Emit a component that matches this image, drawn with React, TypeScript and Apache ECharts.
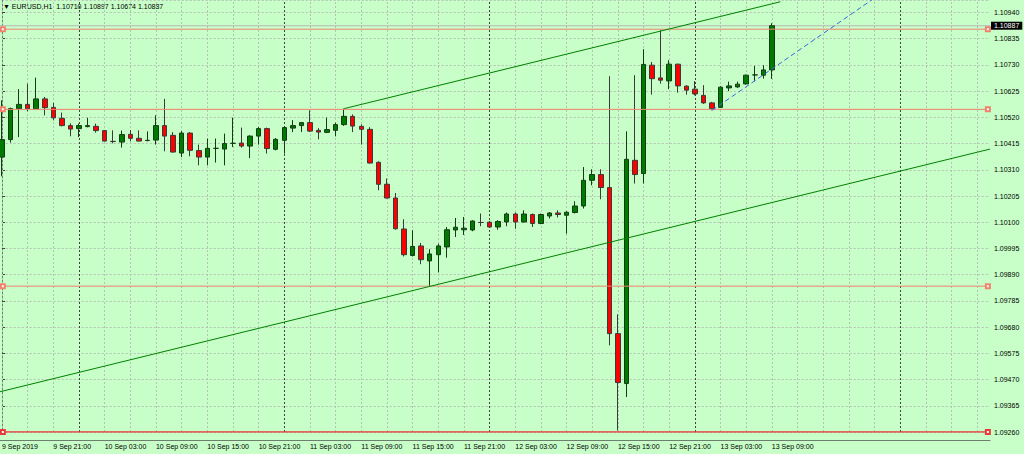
import React, { useEffect, useRef } from "react";
import * as echarts from "echarts";

const FONT = "'Liberation Sans', Arial, sans-serif";
const TITLE = "▼ EURUSD,H1  1.10710 1.10897 1.10674 1.10887";

// hourly slots on the time axis (91 bars + empty space on the right)
const SLOT_COUNT = 116;

// time-scale labels, one every 6 bars from 9 Sep 2019 15:00
const tickLabels = [
  "9 Sep 2019", "9 Sep 21:00", "10 Sep 03:00", "10 Sep 09:00", "10 Sep 15:00",
  "10 Sep 21:00", "11 Sep 03:00", "11 Sep 09:00", "11 Sep 15:00", "11 Sep 21:00",
  "12 Sep 03:00", "12 Sep 09:00", "12 Sep 15:00", "12 Sep 21:00", "13 Sep 03:00",
  "13 Sep 09:00",
];

const opens = [
  1.10361, 1.10431, 1.10555, 1.10572, 1.10554, 1.10594, 1.10560, 1.10516, 1.10487, 1.10475,
  1.10483, 1.10484, 1.10467, 1.10424, 1.10421, 1.10452, 1.10436, 1.10427, 1.10429, 1.10487,
  1.10448, 1.10377, 1.10457, 1.10387, 1.10361, 1.10396, 1.10393, 1.10416, 1.10417, 1.10405,
  1.10445, 1.10475, 1.10392, 1.10428, 1.10477, 1.10487, 1.10499, 1.10468, 1.10460, 1.10468,
  1.10491, 1.10524, 1.10484, 1.10472, 1.10340, 1.10252, 1.10197, 1.10073, 1.09967, 1.10005,
  1.09945, 1.09970, 1.10001, 1.10069, 1.10070, 1.10069, 1.10099, 1.10100, 1.10081, 1.10101,
  1.10133, 1.10101, 1.10131, 1.10095, 1.10125, 1.10137, 1.10128, 1.10139, 1.10165, 1.10268,
  1.10291, 1.10239, 1.09654, 1.09454, 1.10348, 1.10295, 1.10729, 1.10678, 1.10666, 1.10733,
  1.10645, 1.10633, 1.10608, 1.10578, 1.10560, 1.10638, 1.10642, 1.10654, 1.10690, 1.10689,
  1.10710,
];
const closes = [
  1.10431, 1.10555, 1.10572, 1.10555, 1.10594, 1.10559, 1.10518, 1.10487, 1.10473, 1.10487,
  1.10487, 1.10467, 1.10425, 1.10423, 1.10451, 1.10436, 1.10425, 1.10428, 1.10487, 1.10445,
  1.10381, 1.10457, 1.10388, 1.10361, 1.10396, 1.10396, 1.10415, 1.10416, 1.10405, 1.10445,
  1.10475, 1.10395, 1.10432, 1.10479, 1.10487, 1.10499, 1.10465, 1.10461, 1.10471, 1.10491,
  1.10524, 1.10485, 1.10472, 1.10337, 1.10252, 1.10197, 1.10074, 1.09970, 1.10003, 1.09950,
  1.09973, 1.10005, 1.10070, 1.10080, 1.10076, 1.10105, 1.10099, 1.10081, 1.10103, 1.10133,
  1.10101, 1.10133, 1.10095, 1.10131, 1.10137, 1.10131, 1.10140, 1.10165, 1.10268, 1.10291,
  1.10239, 1.09654, 1.09458, 1.10352, 1.10291, 1.10732, 1.10675, 1.10669, 1.10733, 1.10646,
  1.10629, 1.10614, 1.10578, 1.10555, 1.10641, 1.10646, 1.10653, 1.10689, 1.10690, 1.10710,
  1.10887,
];
const lows = [
  1.10284, 1.10419, 1.10441, 1.10544, 1.10551, 1.10528, 1.10508, 1.10484, 1.10444, 1.10441,
  1.10480, 1.10459, 1.10424, 1.10416, 1.10399, 1.10424, 1.10424, 1.10424, 1.10411, 1.10384,
  1.10379, 1.10361, 1.10364, 1.10328, 1.10328, 1.10339, 1.10328, 1.10401, 1.10399, 1.10357,
  1.10411, 1.10375, 1.10388, 1.10375, 1.10461, 1.10461, 1.10461, 1.10432, 1.10457, 1.10444,
  1.10486, 1.10461, 1.10411, 1.10335, 1.10228, 1.10195, 1.10070, 1.09963, 1.09963, 1.09932,
  1.09843, 1.09899, 1.09958, 1.10041, 1.10049, 1.10064, 1.10084, 1.10079, 1.10070, 1.10084,
  1.10074, 1.10099, 1.10081, 1.10092, 1.10115, 1.10119, 1.10054, 1.10135, 1.10155, 1.10248,
  1.10192, 1.09607, 1.09266, 1.09400, 1.10255, 1.10255, 1.10611, 1.10655, 1.10633, 1.10619,
  1.10611, 1.10608, 1.10574, 1.10548, 1.10558, 1.10625, 1.10638, 1.10651, 1.10665, 1.10675,
  1.10674,
];
const highs = [
  1.10588, 1.10559, 1.10633, 1.10655, 1.10679, 1.10602, 1.10578, 1.10539, 1.10496, 1.10495,
  1.10518, 1.10495, 1.10469, 1.10468, 1.10467, 1.10469, 1.10468, 1.10464, 1.10528, 1.10594,
  1.10461, 1.10465, 1.10461, 1.10411, 1.10435, 1.10435, 1.10455, 1.10519, 1.10479, 1.10448,
  1.10481, 1.10479, 1.10437, 1.10485, 1.10509, 1.10501, 1.10548, 1.10477, 1.10519, 1.10499,
  1.10555, 1.10532, 1.10492, 1.10481, 1.10344, 1.10275, 1.10217, 1.10112, 1.10068, 1.10017,
  1.09992, 1.10014, 1.10081, 1.10117, 1.10121, 1.10108, 1.10135, 1.10105, 1.10108, 1.10139,
  1.10139, 1.10148, 1.10135, 1.10135, 1.10141, 1.10148, 1.10144, 1.10184, 1.10321, 1.10312,
  1.10312, 1.10685, 1.09731, 1.10464, 1.10689, 1.10793, 1.10742, 1.10869, 1.10749, 1.10735,
  1.10649, 1.10665, 1.10649, 1.10582, 1.10645, 1.10663, 1.10663, 1.10691, 1.10726, 1.10729,
  1.10897,
];

// drawn objects: [bar index, price]
const upperTrend = [[40, 1.10555], [91, 1.10983]];
const lowerTrend = [[-0.5, 1.09419], [115.5, 1.10393]];
const blueTrend = [[83, 1.10548], [102, 1.10998]];
const salmonLevels = [1.10873, 1.10552, 1.09844];
const redLevel = 1.0926;
const bidPrice = 1.10887;
const levelSpan = [0.1, 115.25];
const daySeparators = [9, 33, 57, 81, 105];

const Y_MIN = 1.0926;
const Y_MAX = 1.1099;
const Y_STEP = 0.00105;

export default function App() {
  const ref = useRef<HTMLDivElement>(null);

  useEffect(() => {
    document.body.style.margin = "0";
    if (!ref.current) return;
    const chart = echarts.init(ref.current, undefined, { renderer: "svg" });

    const categories = Array.from({ length: SLOT_COUNT }, (_, i) => String(i));
    const candles = opens.map((o, i) => [o, closes[i], lows[i], highs[i]]);
    const showAt = (idx: number) => idx % 6 === 0 && idx / 6 < tickLabels.length;

    const lightGrid: number[] = [];
    for (let i = 0; i < SLOT_COUNT; i += 3) {
      if (!daySeparators.includes(i)) lightGrid.push(i);
    }

    const levelSeries = (price: number, color: string, width: number) => ({
      type: "line",
      xAxisIndex: 1,
      yAxisIndex: 0,
      data: [[levelSpan[0], price], [levelSpan[1], price]],
      symbol: "emptyRect",
      symbolSize: 4,
      showSymbol: true,
      silent: true,
      z: 4,
      itemStyle: { color, borderColor: color, borderWidth: 1 },
      lineStyle: { color, width },
    });

    const trendSeries = (data: number[][], color: string, type: any) => ({
      type: "line",
      xAxisIndex: 1,
      yAxisIndex: 0,
      data,
      symbol: "none",
      silent: true,
      z: 5,
      lineStyle: { color, width: 1, type },
    });

    chart.setOption({
      animation: false,
      backgroundColor: "#c8ffc8",
      textStyle: { fontFamily: FONT },
      graphic: [
        {
          type: "text",
          left: 3,
          top: 3,
          style: { text: TITLE, fontSize: 7, fill: "#000", fontFamily: FONT },
        },
      ],
      grid: {
        left: -2.27,
        right: 34,
        top: 0,
        bottom: 22,
        containLabel: false,
        outerBoundsMode: "none",
      },
      xAxis: [
        {
          type: "category",
          data: categories,
          boundaryGap: true,
          offset: 8,
          axisLine: { lineStyle: { color: "#6e7e6e", width: 1 } },
          axisTick: {
            interval: (idx: number) => showAt(idx),
            alignWithLabel: true,
            length: 3,
            lineStyle: { color: "#404040" },
          },
          axisLabel: {
            interval: (idx: number) => showAt(idx),
            formatter: (_v: string, idx: number) => tickLabels[idx / 6] ?? "",
            align: "left",
            fontSize: 7,
            margin: 3,
            color: "#000",
            fontFamily: FONT,
          },
          splitLine: { show: false },
        },
        {
          type: "value",
          min: -0.5,
          max: SLOT_COUNT - 0.5,
          show: false,
          splitLine: { show: false },
        },
      ],
      yAxis: {
        type: "value",
        position: "right",
        min: Y_MIN,
        max: Y_MAX,
        interval: Y_STEP,
        scale: true,
        axisLine: { show: true, lineStyle: { color: "#6e7e6e", width: 1 } },
        axisTick: { show: true, length: 3, lineStyle: { color: "#404040" } },
        axisLabel: {
          formatter: (v: number) => v.toFixed(5),
          showMaxLabel: false,
          fontSize: 7,
          margin: 4,
          color: "#000",
          fontFamily: FONT,
        },
        splitLine: { show: true, lineStyle: { color: "#b4c2b4", type: [2, 2], width: 1 } },
      },
      series: [
        {
          type: "line",
          xAxisIndex: 1,
          yAxisIndex: 0,
          data: [],
          z: 1,
          silent: true,
          markLine: {
            silent: true,
            z: 1,
            symbol: ["none", "none"],
            label: { show: false },
            data: [
              ...lightGrid.map((i) => ({
                xAxis: i,
                lineStyle: { color: "#b4c2b4", type: [2, 2], width: 1 },
              })),
              ...daySeparators.map((i) => ({
                xAxis: i,
                lineStyle: { color: "#404040", type: [2, 2], width: 1 },
              })),
            ],
          },
        },
        {
          type: "line",
          xAxisIndex: 1,
          yAxisIndex: 0,
          data: [[-0.5, bidPrice], [SLOT_COUNT - 0.5, bidPrice]],
          symbol: "none",
          z: 1,
          silent: true,
          lineStyle: { color: "#b8b8b8", width: 1 },
          endLabel: {
            show: true,
            formatter: () => bidPrice.toFixed(5),
            backgroundColor: "#000",
            color: "#fff",
            fontSize: 7,
            padding: [1, 3, 0, 3],
            distance: 1,
            fontFamily: FONT,
          },
        },
        {
          type: "candlestick",
          xAxisIndex: 0,
          yAxisIndex: 0,
          data: candles,
          barWidth: 5,
          z: 2,
          silent: true,
          itemStyle: {
            color: "#007a00",
            color0: "#ff0000",
            borderColor: "#143c14",
            borderColor0: "#3a3a3a",
            borderWidth: 1,
          },
        },
        ...salmonLevels.map((p) => levelSeries(p, "#f0826e", 1)),
        levelSeries(redLevel, "#e83a3a", 1.5),
        trendSeries(upperTrend, "#008000", "solid"),
        trendSeries(lowerTrend, "#008000", "solid"),
        trendSeries(blueTrend, "#3a66e0", [5, 3]),
      ],
    });

    return () => chart.dispose();
  }, []);

  return <div ref={ref} style={{ width: 1024, height: 454 }} />;
}
